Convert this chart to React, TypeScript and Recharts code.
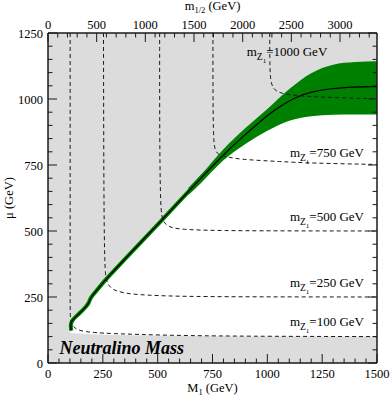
import {
  ComposedChart,
  XAxis,
  YAxis,
  Line,
  Area,
  CartesianGrid,
  ReferenceDot,
  Label,
} from 'recharts';

const SERIF = "'Liberation Serif', 'Times New Roman', serif";
const INK = '#1a1a1a';
const GRAY = '#dcdcdc';
const GREEN = '#008000';

// tick labels
const M1_LABELS = [0, 250, 500, 750, 1000, 1250, 1500];
const MU_LABELS = [0, 250, 500, 750, 1000, 1250];
const M12_LABELS = [0, 500, 1000, 1500, 2000, 2500, 3000];
// m_1/2 at the two ends of the M1 axis
const M12_RANGE = [0, 3380];

// [M1, mu] points
const boundary: [number, number][] = [
  [106, 123], [103, 141], [106, 154], [113, 164], [130, 178], [144, 189],
  [162, 203], [177, 217], [186, 228], [191, 240], [197, 250], [212, 265],
  [235, 288], [266, 319], [387, 426], [524, 545], [646, 655], [798, 789],
  [900, 866], [951, 903], [1000, 938], [1057, 972], [1133, 1009],
  [1200, 1027], [1285, 1040], [1400, 1046], [1500, 1047],
];

// [M1, mu low, mu high] of the unshaded region under the boundary
const allowed: [number, number, number][] = [
  [103, 114, 138], [106, 113, 155], [113, 113, 164], [144, 112, 189],
  [177, 110, 217], [189, 110, 233], [197, 109, 250], [212, 109, 265],
  [235, 108, 288], [266, 107, 319], [387, 105, 426], [524, 104, 545],
  [646, 102, 655], [798, 101, 789], [900, 100, 866], [951, 100, 903],
  [1000, 100, 938], [1057, 100, 972], [1133, 100, 1009], [1200, 100, 1027],
  [1285, 100, 1040], [1400, 100, 1046], [1500, 100, 1047],
];

// [M1, mu low, mu high] of the green band
const band: [number, number, number][] = [
  [640, 636, 664], [700, 684, 716], [800, 768, 810], [900, 830, 890],
  [1000, 880, 962], [1100, 918, 1038], [1200, 935, 1098], [1300, 940, 1130],
  [1400, 941, 1140], [1500, 941, 1143],
];

// dashed m_Z1 contours, [M1, mu]
const z100: [number, number][] = [
  [101, 1250], [101, 300], [101, 200], [102, 170], [105, 155], [111, 143],
  [122, 133], [136, 126], [160, 120], [189, 117], [250, 113], [342, 110],
  [500, 106], [692, 103], [1000, 101], [1500, 100],
];
const z250: [number, number][] = [
  [253, 1250], [254, 800], [256, 500], [259, 380], [262, 335], [267, 312],
  [275, 296], [290, 282], [311, 273], [350, 265], [387, 261], [450, 257],
  [540, 254], [655, 252], [900, 250.5], [1500, 250],
];
const z500: [number, number][] = [
  [509, 1250], [509, 900], [511, 700], [514, 600], [518, 560], [525, 537],
  [540, 523], [560, 514], [585, 509], [655, 504], [800, 501.5],
  [1000, 500.5], [1500, 500],
];
const z750: [number, number][] = [
  [752, 1250], [752, 1000], [754, 880], [757, 830], [762, 808], [770, 795],
  [790, 785], [850, 775], [905, 770], [1057, 763], [1200, 757], [1500, 752],
];
const z1000: [number, number][] = [
  [1011, 1250], [1011, 1150], [1013, 1090], [1018, 1060], [1027, 1040],
  [1045, 1028], [1072, 1020], [1133, 1013], [1200, 1009], [1285, 1006],
  [1400, 1003], [1500, 1001],
];

// contour labels: [M1, mu] where the text starts, and the mass
const contourTags: [number, number, string][] = [
  [906, 1164, '1000'],
  [1103, 780, '750'],
  [1103, 536, '500'],
  [1103, 288, '250'],
  [1103, 139, '100'],
];

const pts = (a: [number, number][]) => a.map(([m1, mu]) => ({ m1, mu }));
const ranges = (a: [number, number, number][]) =>
  a.map(([m1, lo, hi]) => ({ m1, range: [lo, hi] }));

const steps = (max: number, step: number) =>
  Array.from({ length: Math.floor(max / step) + 1 }, (_, i) => i * step);

const tickText = { fontSize: 12.5, fontFamily: SERIF, fill: '#000' };

function BottomTick({ x, y, payload }: any) {
  const major = M1_LABELS.includes(payload.value);
  return (
    <g>
      <line x1={x} x2={x} y1={y} y2={y - (major ? 9 : 4.5)} stroke={INK} />
      {major && (
        <text x={x} y={y + 15} textAnchor="middle" {...tickText}>
          {payload.value}
        </text>
      )}
    </g>
  );
}

function TopTick({ x, y, payload }: any) {
  const major = M12_LABELS.includes(payload.value);
  return (
    <g>
      <line x1={x} x2={x} y1={y} y2={y + (major ? 9 : 4.5)} stroke={INK} />
      {major && (
        <text x={x} y={y - 4} textAnchor="middle" {...tickText}>
          {payload.value}
        </text>
      )}
    </g>
  );
}

function LeftTick({ x, y, payload }: any) {
  const major = MU_LABELS.includes(payload.value);
  return (
    <g>
      <line x1={x} x2={x + (major ? 9 : 4.5)} y1={y} y2={y} stroke={INK} />
      {major && (
        <text x={x - 5} y={y + 4.5} textAnchor="end" {...tickText}>
          {payload.value}
        </text>
      )}
    </g>
  );
}

function RightTick({ x, y, payload }: any) {
  const major = MU_LABELS.includes(payload.value);
  return <line x1={x} x2={x - (major ? 9 : 4.5)} y1={y} y2={y} stroke={INK} />;
}

function BottomTitle({ viewBox }: any) {
  return (
    <text x={viewBox.x + viewBox.width / 2} y={viewBox.y + 29} textAnchor="middle" {...tickText}>
      M<tspan fontSize={8.5} dy={3}>1</tspan>
      <tspan dy={-3}>{' (GeV)'}</tspan>
    </text>
  );
}

function TopTitle({ viewBox }: any) {
  return (
    <text x={viewBox.x + viewBox.width / 2} y={viewBox.y + 9.5} textAnchor="middle" {...tickText}>
      m<tspan fontSize={8.5} dy={3}>1/2</tspan>
      <tspan dy={-3}>{' (GeV)'}</tspan>
    </text>
  );
}

function LeftTitle({ viewBox }: any) {
  const cx = viewBox.x + 13;
  const cy = viewBox.y + viewBox.height / 2;
  return (
    <text x={cx} y={cy} textAnchor="middle" transform={`rotate(-90, ${cx}, ${cy})`} {...tickText}>
      μ (GeV)
    </text>
  );
}

function MassTag({ viewBox, mass }: any) {
  return (
    <text x={viewBox.x} y={viewBox.y} fontSize={13} fontFamily={SERIF} fill="#000">
      m<tspan fontSize={9.5} dy={4}>Z</tspan>
      <tspan fontSize={7} dy={3}>1</tspan>
      <tspan fontSize={13} dy={-7}>{`=${mass} GeV`}</tspan>
    </text>
  );
}

function Title({ viewBox }: any) {
  return (
    <text
      x={viewBox.x}
      y={viewBox.y}
      fontSize={18}
      fontWeight="bold"
      fontStyle="italic"
      fontFamily={SERIF}
      fill="#000"
    >
      Neutralino Mass
    </text>
  );
}

export default function App() {
  return (
    <div style={{ position: 'absolute', left: 0, top: 0 }}>
      <ComposedChart width={392} height={398} margin={{ top: 0, right: 0, bottom: 0, left: 0 }}>
        <CartesianGrid xAxisId="m1" yAxisId="mu" horizontal={false} vertical={false} fill={GRAY} />
        <XAxis
          xAxisId="m1"
          dataKey="m1"
          type="number"
          orientation="bottom"
          domain={[0, 1500]}
          allowDataOverflow
          ticks={steps(1500, 50)}
          interval={0}
          height={35}
          tickSize={0}
          tickMargin={0}
          tickLine={false}
          tick={BottomTick}
          axisLine={{ stroke: INK, strokeWidth: 1.5 }}
        >
          <Label content={BottomTitle} />
        </XAxis>
        <XAxis
          xAxisId="m12"
          dataKey="m12"
          type="number"
          orientation="top"
          domain={M12_RANGE}
          allowDataOverflow
          ticks={steps(3300, 100)}
          interval={0}
          height={33}
          tickSize={0}
          tickMargin={0}
          tickLine={false}
          tick={TopTick}
          axisLine={{ stroke: INK, strokeWidth: 1.5 }}
        >
          <Label content={TopTitle} />
        </XAxis>
        <YAxis
          yAxisId="mu"
          type="number"
          orientation="left"
          domain={[0, 1250]}
          allowDataOverflow
          ticks={steps(1250, 50)}
          interval={0}
          width={48}
          tickSize={0}
          tickMargin={0}
          tickLine={false}
          tick={LeftTick}
          axisLine={{ stroke: INK, strokeWidth: 1.5 }}
        >
          <Label content={LeftTitle} />
        </YAxis>
        <YAxis
          yAxisId="right"
          type="number"
          orientation="right"
          domain={[0, 1250]}
          allowDataOverflow
          ticks={steps(1250, 50)}
          interval={0}
          width={15}
          tickSize={0}
          tickMargin={0}
          tickLine={false}
          tick={RightTick}
          axisLine={{ stroke: INK, strokeWidth: 1.5 }}
        />

        {/* invisible series so the top m_1/2 axis gets a scale */}
        <Line
          xAxisId="m12"
          yAxisId="right"
          data={M12_RANGE.map((m12) => ({ m12, mu: 0 }))}
          dataKey="mu"
          stroke="none"
          dot={false}
          legendType="none"
          isAnimationActive={false}
        />

        <Area
          xAxisId="m1"
          yAxisId="mu"
          data={ranges(allowed)}
          dataKey="range"
          type="linear"
          fill="#ffffff"
          fillOpacity={1}
          stroke="none"
          isAnimationActive={false}
        />
        <Area
          xAxisId="m1"
          yAxisId="mu"
          data={ranges(band)}
          dataKey="range"
          type="monotone"
          fill={GREEN}
          fillOpacity={1}
          stroke="none"
          isAnimationActive={false}
        />
        <Line
          xAxisId="m1"
          yAxisId="mu"
          data={pts(boundary)}
          dataKey="mu"
          type="basis"
          stroke={GREEN}
          strokeWidth={4}
          dot={false}
          isAnimationActive={false}
        />
        <Line
          xAxisId="m1"
          yAxisId="mu"
          data={pts(boundary)}
          dataKey="mu"
          type="basis"
          stroke="#000"
          strokeWidth={1.2}
          dot={false}
          isAnimationActive={false}
        />
        {[z100, z250, z500, z750, z1000].map((c, i) => (
          <Line
            key={i}
            xAxisId="m1"
            yAxisId="mu"
            data={pts(c)}
            dataKey="mu"
            type="basis"
            stroke={INK}
            strokeWidth={1}
            strokeDasharray="4 3"
            dot={false}
            isAnimationActive={false}
          />
        ))}

        {contourTags.map(([m1, mu, mass]) => (
          <ReferenceDot
            key={mass}
            xAxisId="m1"
            yAxisId="mu"
            x={m1}
            y={mu}
            r={0}
            fill="none"
            stroke="none"
            label={<MassTag mass={mass} />}
          />
        ))}
        <ReferenceDot
          xAxisId="m1"
          yAxisId="mu"
          x={52}
          y={35}
          r={0}
          fill="none"
          stroke="none"
          label={<Title />}
        />
      </ComposedChart>
    </div>
  );
}
